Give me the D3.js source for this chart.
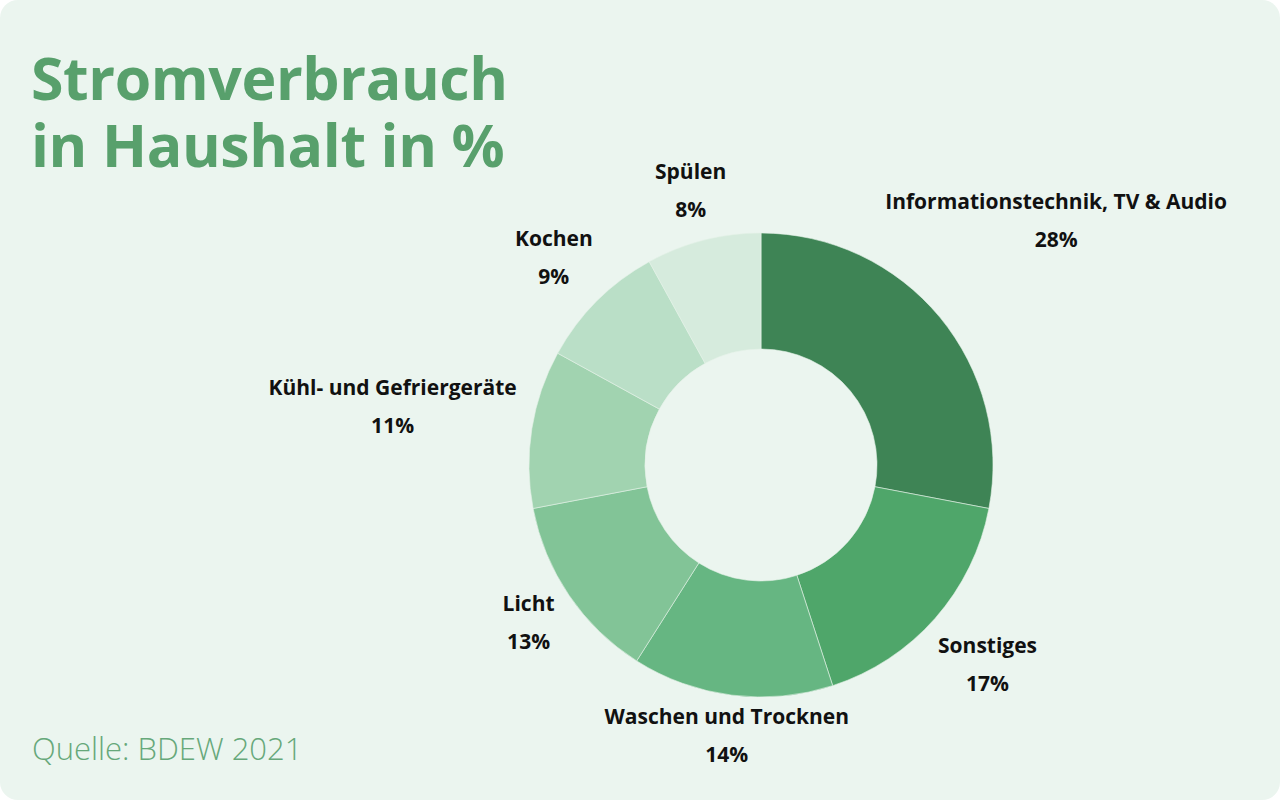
<!DOCTYPE html>
<html><head><meta charset="utf-8">
<script src="https://cdn.jsdelivr.net/npm/d3@7"></script>
<style>
html,body{margin:0;padding:0;background:#ffffff;}
#wrap{position:relative;width:1280px;height:800px;}
svg{display:block;position:absolute;left:0;top:0;}
#title{position:absolute;left:31px;top:44px;margin:0;font-family:'Open Sans','Noto Sans',sans-serif;
  font-weight:700;font-size:59px;line-height:67px;letter-spacing:-0.4px;color:#58a06c;white-space:nowrap;}
</style></head>
<body>
<div id="wrap"><svg id="chart" width="1280" height="800"></svg></div>
<script>
const categories = ["Informationstechnik, TV & Audio","Sonstiges","Waschen und Trocknen","Licht","Kühl- und Gefriergeräte","Kochen","Spülen"];
const values = [28,17,14,13,11,9,8];
const colors = ["#3e8455","#4fa66a","#66b682","#82c497","#a1d3b0","#badfc7","#d6ebdd"];
const labelGap = [151,70,41,49,141,61,51];
const title = ["Stromverbrauch","in Haushalt in %"];
const source = "Quelle: BDEW 2021";

const svg = d3.select("#chart");
svg.append("rect").attr("x",0).attr("y",0).attr("width",1280).attr("height",800)
  .attr("rx",18).attr("ry",18).attr("fill","#ebf5ef");

const font = "'Open Sans', 'Noto Sans', sans-serif";
const td = d3.select("#wrap").append("div").attr("id","title");
td.selectAll("div").data(title).join("div").text(d=>d);

svg.append("text").attr("x",32).attr("y",760)
  .attr("font-family",font).attr("font-weight",300).attr("font-size",31)
  .attr("fill","#66a87a").text(source);

const cx=761, cy=465, R=232, r=116;
const g = svg.append("g").attr("transform",`translate(${cx},${cy})`);
const pie = d3.pie().sort(null).value(d=>d.v);
const data = pie(categories.map((c,i)=>({c, v:values[i], i})));
const arc = d3.arc().innerRadius(r).outerRadius(R);
g.selectAll("path").data(data).join("path")
  .attr("d",arc).attr("fill",d=>colors[d.data.i])
  .attr("stroke","#e4f1e8").attr("stroke-width",0.6);

const lab = g.selectAll("g.lab").data(data).join("g").attr("class","lab")
  .attr("transform",d=>{
    const a=(d.startAngle+d.endAngle)/2;
    const dist=R+labelGap[d.data.i];
    return `translate(${Math.sin(a)*dist},${-Math.cos(a)*dist})`;
  });
lab.append("text").attr("text-anchor","middle").attr("y",-12)
  .attr("font-family",font).attr("font-weight",700).attr("font-size",21)
  .attr("fill","#111").text(d=>d.data.c);
lab.append("text").attr("text-anchor","middle").attr("y",26)
  .attr("font-family",font).attr("font-weight",700).attr("font-size",21)
  .attr("fill","#111").text(d=>d.data.v+"%");
</script>
</body></html>
